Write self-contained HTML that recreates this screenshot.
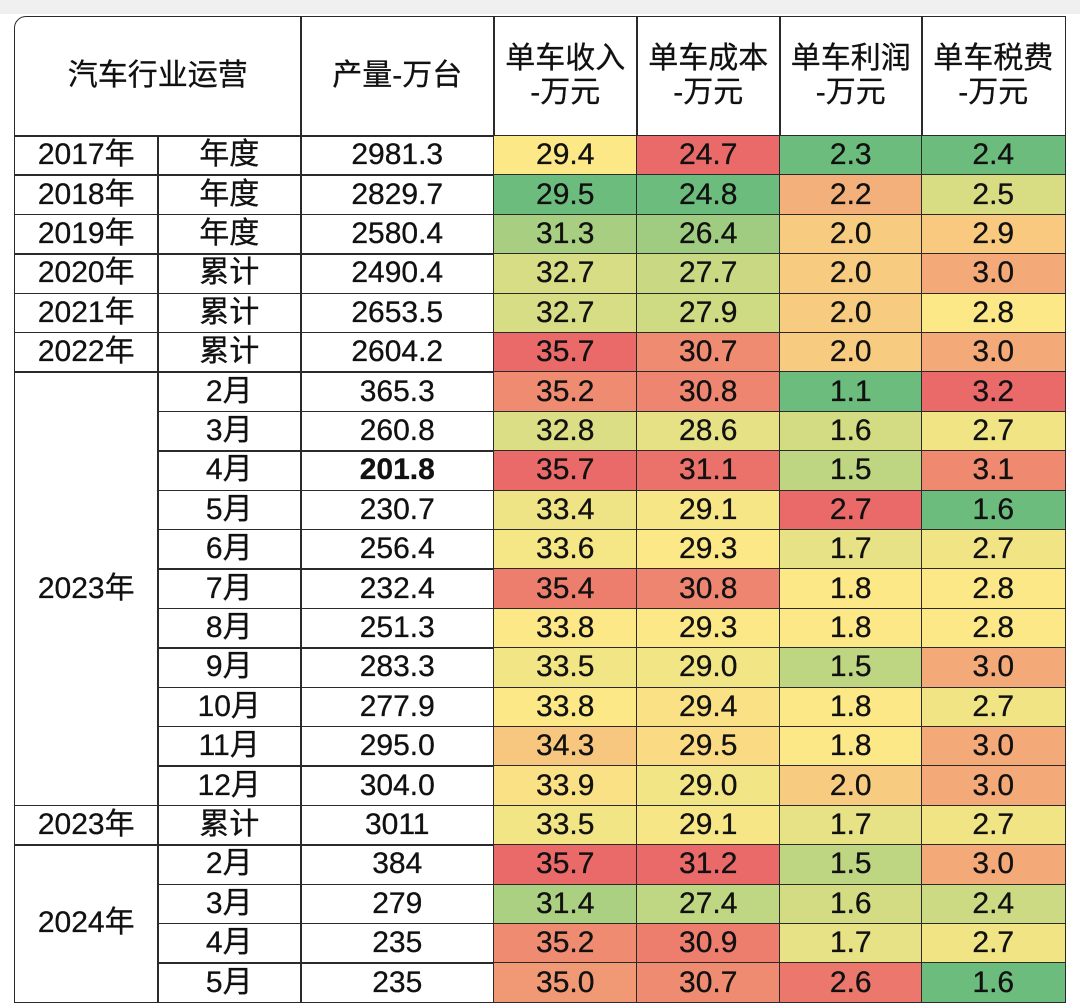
<!DOCTYPE html>
<html><head><meta charset="utf-8">
<style>
body{margin:0;width:1080px;height:1003px;background:#fff;overflow:hidden;font-family:"Liberation Sans","Noto Sans CJK SC",sans-serif;}
#topband{position:absolute;left:0;top:0;width:1080px;height:14px;background:#f0f0f0;}
#tbl{position:absolute;left:0;top:0;width:1080px;height:1003px;}
.c{position:absolute;box-sizing:border-box;border:1.5px solid #2a2a2a;display:flex;align-items:center;justify-content:center;color:#111;font-size:30px;line-height:1.15;text-align:center;-webkit-text-stroke:0.3px #111;}
</style></head><body>
<div id="topband"></div>
<div id="tbl"></div>
<script>
const years=["2017年","2018年","2019年","2020年","2021年","2022年","2023年","2023年","2023年","2023年","2023年","2023年","2023年","2023年","2023年","2023年","2023年","2023年","2024年","2024年","2024年","2024年"];
const periods=["年度","年度","年度","累计","累计","累计","2月","3月","4月","5月","6月","7月","8月","9月","10月","11月","12月","累计","2月","3月","4月","5月"];
const output=["2981.3","2829.7","2580.4","2490.4","2653.5","2604.2","365.3","260.8","201.8","230.7","256.4","232.4","251.3","283.3","277.9","295.0","304.0","3011","384","279","235","235"];
const revenue=[29.4,29.5,31.3,32.7,32.7,35.7,35.2,32.8,35.7,33.4,33.6,35.4,33.8,33.5,33.8,34.3,33.9,33.5,35.7,31.4,35.2,35.0];
const cost=[24.7,24.8,26.4,27.7,27.9,30.7,30.8,28.6,31.1,29.1,29.3,30.8,29.3,29.0,29.4,29.5,29.0,29.1,31.2,27.4,30.9,30.7];
const profit=[2.3,2.2,2.0,2.0,2.0,2.0,1.1,1.6,1.5,2.7,1.7,1.8,1.8,1.5,1.8,1.8,2.0,1.7,1.5,1.6,1.7,2.6];
const tax=[2.4,2.5,2.9,3.0,2.8,3.0,3.2,2.7,3.1,1.6,2.7,2.8,2.8,3.0,2.7,3.0,3.0,2.7,3.0,2.4,2.7,1.6];
const firstRowTones=["yellow","red","green","green"];
const headers=["单车收入<br>-万元","单车成本<br>-万元","单车利润<br>-万元","单车税费<br>-万元"];

const tbl=document.getElementById('tbl');
const X=[14,157,300,493,636,779,921,1064];
const TOP=16,HB=135,RH=39.4;
function cell(x0,x1,y0,y1,html,bg,name){
  const d=document.createElement('div');
  d.className='c';
  d.style.left=x0+'px';d.style.top=y0+'px';d.style.width=(x1-x0+1.5)+'px';d.style.height=(y1-y0+1.5)+'px';
  if(bg)d.style.background=bg;
  d.innerHTML=html;
  
  
  tbl.appendChild(d);return d;
}
const h0=cell(X[0],X[2],TOP,HB,"汽车行业运营",null,'header-operation');
h0.style.borderTopLeftRadius='12px';
cell(X[2],X[3],TOP,HB,"产量-万台",null,'header-output');
headers.forEach((h,i)=>cell(X[3+i],X[4+i],TOP,HB,h,null,'header-metric-'+(i+1)));

function lerp(a,b,t){return a.map((v,i)=>Math.round(v+(b[i]-v)*t));}
const G=[108,189,125],Y=[252,232,134],R=[234,106,106];
const toneColor={green:G,yellow:Y,red:R};
function median(a){const s=[...a].sort((p,q)=>p-q);const m=s.length>>1;return s.length%2?s[m]:(s[m-1]+s[m])/2;}
function colorScale(arr){
  const mn=Math.min(...arr),mx=Math.max(...arr),md=median(arr);
  return v=>{let c;if(v<=md)c=lerp(G,Y,md===mn?1:(v-mn)/(md-mn));else c=lerp(Y,R,(v-md)/(mx-md));return 'rgb('+c.join(',')+')';};
}
const cols=[revenue,cost,profit,tax];
const scales=cols.map(a=>colorScale(a.slice(1)));
const rowY=i=>HB+i*RH;
let i=0;
while(i<years.length){
  let j=i;
  while(j+1<years.length&&years[j+1]===years[i]&&periods[j+1]!=="累计"&&periods[i]!=="累计")j++;
  cell(X[0],X[1],rowY(i),rowY(j+1),years[i],null,'year-cell');
  i=j+1;
}
periods.forEach((p,r)=>{
  cell(X[1],X[2],rowY(r),rowY(r+1),p,null,'period-cell');
  const o=cell(X[2],X[3],rowY(r),rowY(r+1),output[r],null,'output-cell');
  if(output[r]==="201.8")o.style.fontWeight='bold';
  cols.forEach((arr,k)=>{
    const bg=r===0?'rgb('+toneColor[firstRowTones[k]].join(',')+')':scales[k](arr[r]);
    cell(X[3+k],X[4+k],rowY(r),rowY(r+1),arr[r].toFixed(1),bg,'heat-cell');
  });
});
</script>
</body></html>
